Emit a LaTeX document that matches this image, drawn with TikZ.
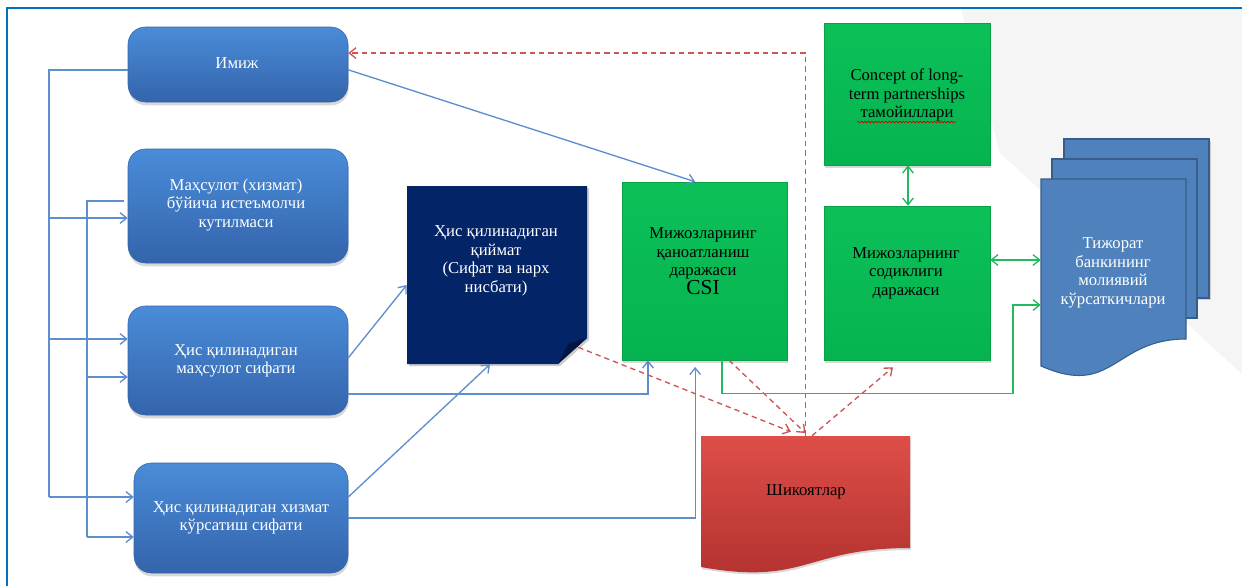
\documentclass[tikz,border=0pt]{standalone}
\usepackage{fontspec}
\setmainfont{Liberation Serif}
\newfontfamily\diaserif{Liberation Serif}
\usetikzlibrary{arrows.meta,shadows,decorations.pathmorphing}
\definecolor{blueTop}{RGB}{74,140,216}
\definecolor{blueBot}{RGB}{52,100,172}
\definecolor{navy}{RGB}{4,36,104}
\definecolor{navyDark}{RGB}{2,22,66}
\definecolor{greenTop}{RGB}{12,192,88}
\definecolor{greenBot}{RGB}{5,180,80}
\definecolor{greenLine}{RGB}{10,160,70}
\definecolor{redTop}{RGB}{222,78,72}
\definecolor{redBot}{RGB}{176,48,46}
\definecolor{tijBlue}{RGB}{79,129,189}
\definecolor{tijLine}{RGB}{56,93,138}
\definecolor{lineBlue}{RGB}{95,142,206}
\definecolor{lineRed}{RGB}{205,85,85}
\definecolor{lineGreen}{RGB}{35,185,95}
\definecolor{frameBlue}{RGB}{0,112,192}
\definecolor{bgGray}{RGB}{245,245,246}
\begin{document}
\begin{tikzpicture}[x=0.75pt,y=-0.75pt,
  bbox/.style={rectangle, rounded corners=13pt, top color=blueTop, bottom color=blueBot, draw=blueBot, line width=0.4pt,
    drop shadow={shadow xshift=0.5pt, shadow yshift=-2.5pt, opacity=0.3}, inner sep=0},
  gbox/.style={rectangle, top color=greenTop, bottom color=greenBot, draw=greenLine, line width=0.4pt,
    drop shadow={shadow xshift=1pt, shadow yshift=-2pt, opacity=0.3}, inner sep=0},
  hold/.style={rectangle, inner sep=0},
  txt/.style={font=\diaserif\fontsize{12.5}{13.9}\selectfont, align=center, inner sep=0},
  wtxt/.style={txt, text=white},
  bl/.style={draw=lineBlue, line width=1pt},
  redd/.style={draw=lineRed, line width=1pt, dash pattern=on 4pt off 3pt},
  gr/.style={draw=lineGreen, line width=1pt},
  arr/.style={-{Straight Barb[length=5pt,width=8pt]}},
  darr/.style={{Straight Barb[length=5pt,width=8pt]}-{Straight Barb[length=5pt,width=8pt]}}
]
\useasboundingbox (0,0) rectangle (1242,586);
\fill[white] (0,0) rectangle (1242,586);
\fill[bgGray] (961,9) -- (1000,153) -- (1242,374) -- (1242,9) -- cycle;
\draw[frameBlue, line width=2pt] (7,586) -- (7,8) -- (1242,8);

% blue rounded boxes
\node[bbox, minimum width=165pt, minimum height=56.25pt] (imij) at (238,64.5) {};
\node[bbox, minimum width=165pt, minimum height=85.5pt] (kut) at (238,206) {};
\node[bbox, minimum width=165pt, minimum height=81.75pt] (mahs) at (238,360.5) {};
\node[bbox, minimum width=160.5pt, minimum height=82.5pt] (xizm) at (241,518) {};
\node[wtxt] (imijt) at (237,63) {Имиж};
\node[wtxt] (kutt) at (236,205) {Маҳсулот (хизмат)\\бўйича истеъмолчи\\кутилмаси};
\node[wtxt] (mahst) at (236,361) {Ҳис қилинадиган\\маҳсулот сифати};
\node[wtxt] (xizmt) at (241,518) {Ҳис қилинадиган хизмат\\кўрсатиш сифати};

% navy folded box
\fill[black, opacity=0.2] (409,188) -- (589,188) -- (589,340) -- (560,366) -- (409,366) -- cycle;
\fill[navy] (407,186) -- (587,186) -- (587,338) -- (558,364) -- (407,364) -- cycle;
\fill[navyDark] (587,338) -- (558,364) -- (568,344) -- cycle;
\node[hold, minimum width=135pt, minimum height=133.5pt] (qiy) at (497,275) {};
\node[wtxt] (qiyt) at (496,261) {Ҳис қилинадиган\\қиймат\\(Сифат ва нарх\\нисбати)};

% green boxes
\node[gbox, minimum width=123.75pt, minimum height=133.5pt] (csi) at (704.5,271) {};
\node[gbox, minimum width=124.5pt, minimum height=106.5pt] (conc) at (907,94) {};
\node[gbox, minimum width=124.5pt, minimum height=115.5pt] (sod) at (907,283) {};
\node[txt] (csit) at (703,261) {Мижозларнинг\\қаноатланиш\\даражаси\\{\fontsize{16}{16}\selectfont CSI}};
\node[txt] (conct) at (907,95) {Concept of long-\\term partnerships\\тамойиллари};
\draw[red!80!black, line width=0.5pt, decorate, decoration={snake, amplitude=0.6pt, segment length=2.6pt}] (857,122) -- (956,122);
\node[txt] (sodt) at (906,273) {Мижозларнинг\\содиклиги\\даражаси};

% multi-document
\fill[black, opacity=0.15] (1066,141) rectangle (1211,300);
\draw[fill=tijBlue, draw=tijLine, line width=0.8pt] (1064,139) rectangle (1209,298);
\draw[fill=tijBlue, draw=tijLine, line width=0.8pt] (1052,159) rectangle (1197,318);
\draw[fill=tijBlue, draw=tijLine, line width=0.8pt] (1041,179) -- (1186,179) -- (1186,339)
  .. controls (1113.5,339) and (1113.5,398) .. (1041,366) -- cycle;
\node[hold, minimum width=108.75pt, minimum height=140.25pt] (tij) at (1113.5,272.5) {};
\node[wtxt] (tijt) at (1113,273) {Тижорат\\банкининг\\молиявий\\кўрсаткичлари};

% red document
\fill[black, opacity=0.15] (702,438) -- (911,438) -- (911,550) .. controls (806.5,550) and (806.5,588) .. (702,569) -- cycle;
\path[top color=redTop, bottom color=redBot] (701,436) -- (910,436) -- (910,548)
  .. controls (805.5,548) and (805.5,586) .. (701,567) -- cycle;
\node[hold, minimum width=156.75pt, minimum height=98.25pt] (shik) at (805.5,501.5) {};
\node[txt] (shikt) at (806,492) {Шикоятлар};

% left buses
\coordinate (ob1) at (49,70);
\coordinate (ob2) at (49,218);
\coordinate (ob3) at (49,339);
\coordinate (ob4) at (49,497);
\draw[bl] (imij.west |- ob1) -- (ob1) -- (ob4);
\draw[bl,arr] (ob2) -- (kut.west |- ob2);
\draw[bl,arr] (ob3) -- (mahs.west |- ob3);
\draw[bl,arr] (ob4) -- (xizm.west |- ob4);
\coordinate (ib1) at (87,201);
\coordinate (ib2) at (87,377);
\coordinate (ib3) at (87,537);
\draw[bl] ([xshift=-3pt]kut.west |- ib1) -- (ib1) -- (ib3);
\draw[bl,arr] (ib2) -- (mahs.west |- ib2);
\draw[bl,arr] (ib3) -- (xizm.west |- ib3);

% blue connectors
\draw[bl,arr] ([yshift=-4pt]imij.east) -- ([xshift=-7pt]csi.north);
\draw[bl,arr] ([yshift=2pt]mahs.east) -- ([yshift=-7.5pt]qiy.west);
\draw[bl,arr] ([yshift=-25pt]mahs.east) -| ([xshift=-42.4pt]csi.south);
\draw[bl,arr] ([yshift=15.75pt]xizm.east) -- ([xshift=-5.25pt]qiy.south);
\draw[bl,arr] (xizm.east) -| ([xshift=-7pt,yshift=-5pt]csi.south);

% red dashed
\draw[redd,arr] (shik.north) |- ([yshift=8.6pt]imij.east);
\draw[redd,arr] ([xshift=-6.75pt,yshift=12.75pt]qiy.south east) -- ([xshift=-10.9pt,yshift=3pt]shik.north);
\draw[redd,arr] ([xshift=18.4pt]csi.south) -- ([yshift=2pt]shik.north);
\draw[redd,arr] ([xshift=4.9pt]shik.north) -- ([xshift=-10.5pt,yshift=-5.25pt]sod.south);

% green
\draw[gr,darr] ([xshift=0.75pt]conc.south) -- ([xshift=0.75pt]sod.north);
\coordinate (g1) at ([yshift=17.25pt]sod.east);
\draw[gr,darr] (g1) -- (tij.west |- g1);
\coordinate (g2) at (1013,305);
\draw[gr,arr] ([xshift=13.1pt]csi.south) -- ++(0,33) -| (g2) -- (tij.west |- g2);
\end{tikzpicture}
\end{document}
